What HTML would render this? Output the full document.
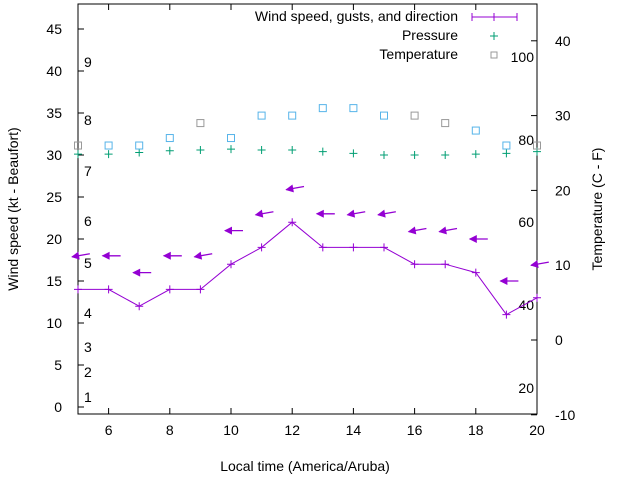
<!DOCTYPE html>
<html><head><meta charset="utf-8"><style>
body{margin:0;background:#fff}
svg{display:block;font-family:"Liberation Sans",sans-serif}
</style></head><body>
<svg id="c" width="640" height="480" viewBox="0 0 640 480">
<g id="axes"></g>
<g id="marks"></g>
</svg>
<script>
const hours=[5,6,7,8,9,10,11,12,13,14,15,16,17,18,19,20];
const windSpeed=[14,14,12,14,14,17,19,22,19,19,19,17,17,16,11,13];
const gusts=[18,18,16,18,18,21,23,26,23,23,23,21,21,20,15,17];
const windDir=[80,90,90,90,80,90,80,80,90,80,80,80,80,90,90,80];
const pressure=[30.1,30.1,30.3,30.5,30.6,30.7,30.6,30.6,30.4,30.2,30.0,30.0,30.0,30.1,30.2,30.4];
const temperature=[26,26,26,27,29,27,30,30,31,31,30,30,29,28,26,26];
const tempGray=[1,0,0,0,1,0,0,0,0,0,0,1,1,0,0,1];
const xTicks=[6,8,10,12,14,16,18,20];
const yTicks=[0,5,10,15,20,25,30,35,40,45];
const y2Ticks=[-10,0,10,20,30,40];
const beaufort=[[1,397],[2,372],[3,347],[4,313],[5,263],[6,221],[7,171],[8,120],[9,62]];
const fahr=[[20,388],[40,305],[60,222],[80,140],[100,57]];

const L=78,R=537,T=4,B=414;
const X=v=>L+(v-5)*(R-L)/15;
const Y=v=>407-v*8.4;
const Y2=v=>340-v*7.48;
const NS="http://www.w3.org/2000/svg";
function mk(tag,attrs,parent,text){const e=document.createElementNS(NS,tag);for(const k in attrs)e.setAttribute(k,attrs[k]);if(text!==undefined)e.textContent=text;parent.appendChild(e);return e;}
const ax=document.getElementById('axes'),mg=document.getElementById('marks');
let e=mk('rect',{x:L,y:T,width:R-L,height:B-T,fill:'none',stroke:'#000','stroke-width':1},ax);


xTicks.forEach(t=>{
 mk('line',{x1:X(t),x2:X(t),y1:B,y2:B-6,stroke:'#000'},ax);
 mk('line',{x1:X(t),x2:X(t),y1:T,y2:T+6,stroke:'#000'},ax);
 const l=mk('text',{x:X(t),y:B+21,'text-anchor':'middle','font-size':14},ax,t);
 
 
});
yTicks.forEach(t=>{
 mk('line',{x1:L,x2:L+6,y1:Y(t),y2:Y(t),stroke:'#000'},ax);
 const l=mk('text',{x:L-16,y:Y(t)+5,'text-anchor':'end','font-size':14},ax,t);
 
 
});
y2Ticks.forEach(t=>{
 mk('line',{x1:R,x2:R-6,y1:Y2(t),y2:Y2(t),stroke:'#000'},ax);
 const l=mk('text',{x:R+18,y:Y2(t)+5,'font-size':14},ax,t);
 
 
});
beaufort.forEach(b=>{const l=mk('text',{x:84,y:b[1]+5,'font-size':14},ax,b[0]);
 
 });
fahr.forEach(b=>{const l=mk('text',{x:R-3,y:b[1]+5,'font-size':14,'text-anchor':'end'},ax,b[0]);
 
 });
e=mk('text',{x:305,y:471,'text-anchor':'middle','font-size':14},ax,'Local time (America/Aruba)');


e=mk('text',{x:0,y:0,'text-anchor':'middle','font-size':14,transform:'translate(18,209) rotate(-90)'},ax,'Wind speed (kt - Beaufort)');


e=mk('text',{x:0,y:0,'text-anchor':'middle','font-size':14,transform:'translate(602,209) rotate(-90)'},ax,'Temperature (C - F)');



e=mk('polyline',{points:hours.map((h,i)=>X(h)+','+Y(windSpeed[i])).join(' '),fill:'none',stroke:'#9400d3','stroke-width':1},mg);


hours.forEach((h,i)=>{
 const x=X(h),y=Y(windSpeed[i]);
 mk('path',{d:`M${x-4},${y}h8M${x},${y-4}v8`,stroke:'#9400d3'},mg);
 const gx=X(h),gy=Y(gusts[i]);
 const g=mk('g',{transform:`translate(${gx},${gy}) rotate(${(windDir[i]-90)})`},mg);
 
 
 mk('line',{x1:-6,y1:0,x2:12,y2:0,stroke:'#9400d3','stroke-width':1.3},g);
 mk('path',{d:'M-7,0L1,-4L1,4Z',fill:'#9400d3'},g);
 const px=X(h),py=Y(pressure[i]);
 const p=mk('path',{d:`M${px-4},${py}h8M${px},${py-4}v8`,stroke:'#009e73'},mg);
 
 
 const s=mk('rect',{x:X(h)-3.5,y:Y2(temperature[i])-3.5,width:7,height:7,fill:'none',stroke:tempGray[i]?'#999':'#56b4e9'},mg);
 
 
});
const leg=mk('g',{},mg);


[['Wind speed, gusts, and direction',22],['Pressure',41],['Temperature',60]].forEach(t=>{const l=mk('text',{x:458,y:t[1]-1,'text-anchor':'end','font-size':14},leg,t[0]);
 
 });
mk('path',{d:'M472,17h45M472,13v8M494,13v8M517,13v8',stroke:'#9400d3'},leg);
mk('path',{d:'M490,36h8M494,32v8',stroke:'#009e73'},leg);
mk('rect',{x:491,y:52,width:6,height:6,fill:'none',stroke:'#999'},leg);
</script>
</body></html>
